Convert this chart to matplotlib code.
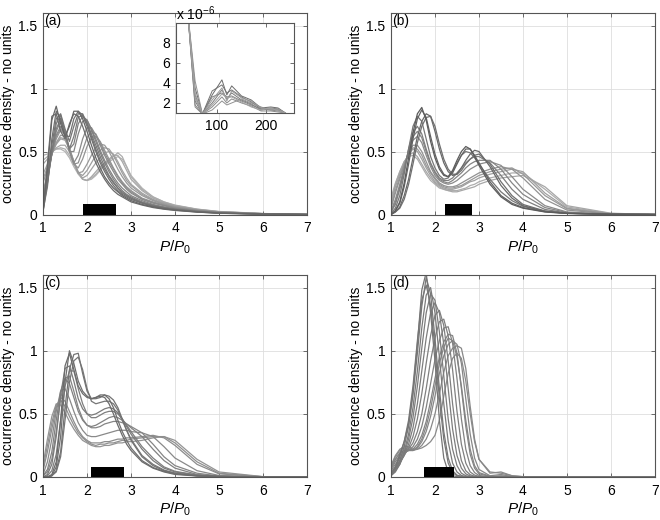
import numpy as np
import matplotlib
matplotlib.use('Agg')
import matplotlib.pyplot as plt

plt.rcParams['font.family'] = ['Liberation Sans', 'DejaVu Sans']
plt.rcParams['font.size'] = 10
plt.rcParams['mathtext.fontset'] = 'custom'
plt.rcParams['mathtext.rm'] = 'Liberation Sans'
plt.rcParams['mathtext.it'] = 'Liberation Sans:italic'

# ---------------- data ----------------
x_ratio = [1.0, 1.1, 1.2, 1.3, 1.4, 1.5, 1.6, 1.7, 1.8, 1.9,
           2.0, 2.1, 2.2, 2.3, 2.4, 2.5, 2.6, 2.7, 2.8, 2.9,
           3.0, 3.25, 3.5, 3.75, 4.0, 4.5, 5.0, 6.0, 7.0]

# panel (a), darkest curve first
curves_a = [
    [0.02, 0.35, 0.75, 0.86, 0.72, 0.62, 0.70, 0.82, 0.82, 0.76, 0.66, 0.55, 0.45, 0.37, 0.30, 0.25, 0.21, 0.18, 0.15, 0.13, 0.11,
     0.08, 0.06, 0.045, 0.035, 0.02, 0.01, 0.003, 0.0],
    [0.03, 0.40, 0.78, 0.80, 0.66, 0.60, 0.72, 0.80, 0.78, 0.70, 0.60, 0.50, 0.41, 0.34, 0.28, 0.23, 0.19, 0.16, 0.14, 0.12, 0.10,
     0.075, 0.055, 0.042, 0.032, 0.019, 0.01, 0.003, 0.0],
    [0.02, 0.25, 0.60, 0.82, 0.76, 0.62, 0.62, 0.76, 0.82, 0.79, 0.70, 0.60, 0.50, 0.41, 0.34, 0.28, 0.23, 0.19, 0.16, 0.14, 0.12,
     0.09, 0.065, 0.05, 0.038, 0.022, 0.012, 0.004, 0.0],
    [0.03, 0.22, 0.55, 0.76, 0.80, 0.68, 0.58, 0.70, 0.80, 0.80, 0.72, 0.62, 0.52, 0.43, 0.36, 0.30, 0.25, 0.21, 0.17, 0.15, 0.13,
     0.092, 0.068, 0.052, 0.04, 0.023, 0.012, 0.004, 0.0],
    [0.05, 0.25, 0.50, 0.72, 0.79, 0.65, 0.52, 0.62, 0.77, 0.79, 0.73, 0.64, 0.55, 0.46, 0.38, 0.31, 0.26, 0.21, 0.18, 0.15, 0.13,
     0.095, 0.07, 0.055, 0.04, 0.024, 0.013, 0.004, 0.0],
    [0.06, 0.26, 0.48, 0.68, 0.76, 0.66, 0.52, 0.56, 0.72, 0.78, 0.75, 0.67, 0.58, 0.49, 0.41, 0.34, 0.28, 0.23, 0.19, 0.16, 0.14,
     0.10, 0.075, 0.058, 0.043, 0.025, 0.014, 0.004, 0.0],
    [0.08, 0.28, 0.48, 0.66, 0.74, 0.66, 0.50, 0.50, 0.64, 0.74, 0.75, 0.68, 0.60, 0.51, 0.43, 0.36, 0.30, 0.25, 0.21, 0.18, 0.15,
     0.11, 0.08, 0.06, 0.045, 0.027, 0.015, 0.005, 0.0],
    [0.12, 0.30, 0.48, 0.63, 0.70, 0.64, 0.50, 0.41, 0.47, 0.60, 0.69, 0.69, 0.63, 0.55, 0.47, 0.40, 0.34, 0.28, 0.24, 0.20, 0.17,
     0.12, 0.09, 0.07, 0.05, 0.03, 0.017, 0.005, 0.0],
    [0.15, 0.31, 0.48, 0.62, 0.68, 0.64, 0.51, 0.40, 0.41, 0.51, 0.61, 0.66, 0.64, 0.57, 0.49, 0.42, 0.36, 0.30, 0.25, 0.21, 0.18,
     0.125, 0.095, 0.072, 0.052, 0.031, 0.017, 0.005, 0.0],
    [0.18, 0.33, 0.48, 0.60, 0.67, 0.63, 0.52, 0.40, 0.37, 0.44, 0.54, 0.61, 0.62, 0.58, 0.51, 0.44, 0.37, 0.31, 0.26, 0.22, 0.19,
     0.13, 0.10, 0.075, 0.055, 0.032, 0.018, 0.006, 0.0],
    [0.25, 0.36, 0.48, 0.57, 0.63, 0.62, 0.53, 0.42, 0.33, 0.34, 0.40, 0.47, 0.53, 0.56, 0.55, 0.50, 0.43, 0.36, 0.30, 0.25, 0.21,
     0.15, 0.11, 0.08, 0.06, 0.035, 0.02, 0.006, 0.0],
    [0.28, 0.38, 0.48, 0.56, 0.61, 0.60, 0.52, 0.42, 0.33, 0.31, 0.35, 0.41, 0.47, 0.51, 0.53, 0.52, 0.47, 0.40, 0.33, 0.27, 0.23,
     0.16, 0.115, 0.085, 0.062, 0.036, 0.02, 0.006, 0.0],
    [0.32, 0.40, 0.49, 0.56, 0.60, 0.59, 0.52, 0.42, 0.33, 0.29, 0.31, 0.36, 0.41, 0.45, 0.49, 0.50, 0.48, 0.42, 0.35, 0.29, 0.24,
     0.17, 0.12, 0.09, 0.065, 0.038, 0.021, 0.007, 0.0],
    [0.40, 0.44, 0.49, 0.53, 0.55, 0.55, 0.50, 0.42, 0.34, 0.28, 0.27, 0.30, 0.34, 0.38, 0.41, 0.44, 0.47, 0.47, 0.42, 0.35, 0.28,
     0.19, 0.13, 0.095, 0.07, 0.04, 0.022, 0.007, 0.0],
    [0.43, 0.46, 0.50, 0.52, 0.53, 0.52, 0.47, 0.40, 0.33, 0.28, 0.27, 0.29, 0.32, 0.36, 0.40, 0.43, 0.46, 0.49, 0.46, 0.38, 0.30,
     0.20, 0.14, 0.10, 0.072, 0.042, 0.023, 0.007, 0.0],
    [0.47, 0.48, 0.50, 0.52, 0.52, 0.50, 0.45, 0.38, 0.32, 0.28, 0.27, 0.28, 0.31, 0.35, 0.39, 0.42, 0.44, 0.46, 0.44, 0.38, 0.31,
     0.21, 0.14, 0.10, 0.075, 0.043, 0.024, 0.008, 0.0],
]

# panel (b)
curves_b = [
    [0.0, 0.03, 0.10, 0.25, 0.45, 0.65, 0.80, 0.85, 0.75, 0.58, 0.45, 0.36, 0.31, 0.30, 0.35, 0.43, 0.50, 0.54, 0.52, 0.46, 0.39,
     0.24, 0.14, 0.08, 0.05, 0.02, 0.008, 0.002, 0.0],
    [0.0, 0.03, 0.09, 0.22, 0.40, 0.60, 0.76, 0.83, 0.77, 0.62, 0.48, 0.38, 0.32, 0.30, 0.33, 0.40, 0.47, 0.52, 0.52, 0.47, 0.41,
     0.26, 0.15, 0.09, 0.055, 0.022, 0.009, 0.002, 0.0],
    [0.0, 0.02, 0.06, 0.15, 0.28, 0.45, 0.62, 0.74, 0.80, 0.78, 0.66, 0.52, 0.41, 0.34, 0.31, 0.32, 0.37, 0.43, 0.48, 0.51, 0.50,
     0.38, 0.23, 0.13, 0.07, 0.025, 0.01, 0.002, 0.0],
    [0.0, 0.02, 0.05, 0.12, 0.24, 0.40, 0.57, 0.70, 0.77, 0.78, 0.70, 0.56, 0.44, 0.36, 0.32, 0.32, 0.35, 0.40, 0.44, 0.47, 0.48,
     0.40, 0.26, 0.15, 0.08, 0.028, 0.01, 0.002, 0.0],
    [0.01, 0.05, 0.15, 0.32, 0.52, 0.70, 0.78, 0.74, 0.60, 0.46, 0.37, 0.31, 0.28, 0.29, 0.34, 0.41, 0.47, 0.50, 0.49, 0.45, 0.40,
     0.28, 0.18, 0.11, 0.065, 0.025, 0.01, 0.002, 0.0],
    [0.02, 0.08, 0.20, 0.35, 0.52, 0.65, 0.70, 0.64, 0.52, 0.41, 0.34, 0.29, 0.27, 0.27, 0.29, 0.33, 0.37, 0.41, 0.44, 0.46, 0.46,
     0.41, 0.31, 0.20, 0.12, 0.04, 0.012, 0.002, 0.0],
    [0.02, 0.10, 0.22, 0.36, 0.51, 0.62, 0.66, 0.61, 0.50, 0.40, 0.33, 0.28, 0.26, 0.25, 0.27, 0.30, 0.33, 0.37, 0.40, 0.42, 0.43,
     0.43, 0.36, 0.25, 0.16, 0.055, 0.016, 0.002, 0.0],
    [0.03, 0.12, 0.24, 0.37, 0.50, 0.59, 0.62, 0.57, 0.47, 0.38, 0.31, 0.27, 0.25, 0.24, 0.25, 0.27, 0.30, 0.33, 0.36, 0.38, 0.40,
     0.42, 0.39, 0.30, 0.20, 0.07, 0.02, 0.003, 0.0],
    [0.05, 0.17, 0.28, 0.39, 0.49, 0.55, 0.55, 0.50, 0.42, 0.34, 0.29, 0.25, 0.23, 0.22, 0.22, 0.23, 0.25, 0.27, 0.29, 0.31, 0.33,
     0.36, 0.38, 0.36, 0.29, 0.12, 0.035, 0.004, 0.0],
    [0.06, 0.19, 0.30, 0.40, 0.48, 0.53, 0.52, 0.47, 0.39, 0.33, 0.28, 0.24, 0.22, 0.21, 0.21, 0.22, 0.23, 0.25, 0.27, 0.29, 0.31,
     0.34, 0.36, 0.37, 0.32, 0.15, 0.045, 0.005, 0.0],
    [0.08, 0.22, 0.32, 0.41, 0.48, 0.52, 0.50, 0.44, 0.37, 0.31, 0.26, 0.23, 0.21, 0.20, 0.20, 0.21, 0.22, 0.24, 0.26, 0.27, 0.29,
     0.32, 0.34, 0.36, 0.34, 0.17, 0.05, 0.006, 0.0],
    [0.10, 0.24, 0.34, 0.42, 0.47, 0.49, 0.46, 0.40, 0.34, 0.29, 0.25, 0.22, 0.20, 0.19, 0.18, 0.18, 0.19, 0.20, 0.21, 0.22, 0.24,
     0.27, 0.29, 0.30, 0.31, 0.22, 0.07, 0.01, 0.0],
    [0.13, 0.25, 0.34, 0.42, 0.46, 0.47, 0.44, 0.38, 0.32, 0.27, 0.24, 0.21, 0.20, 0.19, 0.19, 0.19, 0.20, 0.21, 0.23, 0.24, 0.26,
     0.29, 0.31, 0.33, 0.33, 0.20, 0.06, 0.008, 0.0],
]

# panel (c)
curves_c = [
    [0.0, 0.0, 0.02, 0.12, 0.45, 0.88, 0.98, 0.85, 0.72, 0.66, 0.63, 0.62, 0.63, 0.64, 0.63, 0.58, 0.50, 0.41, 0.33, 0.26, 0.21,
     0.12, 0.07, 0.04, 0.02, 0.008, 0.003, 0.0, 0.0],
    [0.0, 0.0, 0.01, 0.08, 0.32, 0.75, 1.00, 0.90, 0.76, 0.68, 0.64, 0.62, 0.63, 0.65, 0.65, 0.62, 0.55, 0.45, 0.36, 0.29, 0.23,
     0.13, 0.075, 0.045, 0.025, 0.009, 0.003, 0.0, 0.0],
    [0.0, 0.0, 0.01, 0.05, 0.20, 0.55, 0.85, 0.97, 0.98, 0.82, 0.68, 0.62, 0.62, 0.63, 0.65, 0.64, 0.61, 0.55, 0.46, 0.37, 0.29,
     0.16, 0.09, 0.05, 0.03, 0.01, 0.004, 0.0, 0.0],
    [0.0, 0.0, 0.01, 0.04, 0.16, 0.45, 0.75, 0.92, 0.95, 0.85, 0.70, 0.60, 0.58, 0.59, 0.60, 0.60, 0.58, 0.53, 0.45, 0.37, 0.30,
     0.17, 0.10, 0.055, 0.03, 0.011, 0.004, 0.0, 0.0],
    [0.0, 0.02, 0.10, 0.32, 0.65, 0.86, 0.88, 0.76, 0.62, 0.54, 0.50, 0.49, 0.50, 0.52, 0.54, 0.55, 0.54, 0.51, 0.46, 0.40, 0.34,
     0.22, 0.13, 0.07, 0.04, 0.014, 0.005, 0.0, 0.0],
    [0.0, 0.01, 0.05, 0.18, 0.45, 0.72, 0.84, 0.84, 0.70, 0.58, 0.50, 0.47, 0.47, 0.49, 0.51, 0.52, 0.52, 0.50, 0.46, 0.41, 0.36,
     0.24, 0.15, 0.08, 0.045, 0.016, 0.005, 0.0, 0.0],
    [0.01, 0.06, 0.20, 0.45, 0.68, 0.78, 0.74, 0.63, 0.52, 0.45, 0.41, 0.40, 0.41, 0.43, 0.45, 0.47, 0.48, 0.47, 0.45, 0.42, 0.39,
     0.32, 0.22, 0.13, 0.07, 0.02, 0.006, 0.0, 0.0],
    [0.01, 0.04, 0.14, 0.36, 0.62, 0.78, 0.80, 0.68, 0.55, 0.46, 0.41, 0.39, 0.39, 0.40, 0.42, 0.43, 0.44, 0.44, 0.43, 0.42, 0.40,
     0.35, 0.26, 0.16, 0.09, 0.03, 0.008, 0.0, 0.0],
    [0.02, 0.12, 0.30, 0.52, 0.68, 0.70, 0.62, 0.52, 0.43, 0.37, 0.33, 0.32, 0.32, 0.33, 0.34, 0.35, 0.36, 0.37, 0.37, 0.37, 0.36,
     0.35, 0.32, 0.24, 0.15, 0.05, 0.012, 0.001, 0.0],
    [0.05, 0.20, 0.38, 0.55, 0.63, 0.60, 0.52, 0.44, 0.37, 0.32, 0.29, 0.27, 0.27, 0.27, 0.28, 0.28, 0.29, 0.30, 0.30, 0.31, 0.31,
     0.32, 0.33, 0.31, 0.25, 0.10, 0.025, 0.002, 0.0],
    [0.07, 0.25, 0.43, 0.57, 0.61, 0.56, 0.48, 0.41, 0.35, 0.31, 0.28, 0.26, 0.25, 0.26, 0.26, 0.27, 0.27, 0.28, 0.29, 0.29, 0.30,
     0.31, 0.32, 0.32, 0.27, 0.12, 0.03, 0.002, 0.0],
    [0.10, 0.30, 0.48, 0.58, 0.57, 0.51, 0.44, 0.38, 0.33, 0.29, 0.27, 0.25, 0.24, 0.24, 0.25, 0.25, 0.26, 0.27, 0.27, 0.28, 0.28,
     0.29, 0.31, 0.32, 0.29, 0.14, 0.04, 0.003, 0.0],
]

# panel (d)
curves_d = [
    [0.02, 0.08, 0.18, 0.28, 0.42, 0.68, 1.05, 1.48, 1.62, 1.30, 0.92, 0.45, 0.15, 0.04, 0.01, 0.003, 0.0, 0.0, 0.0, 0.0, 0.0,
     0.0, 0.0, 0.0, 0.0, 0.0, 0.0, 0.0, 0.0],
    [0.02, 0.07, 0.16, 0.28, 0.45, 0.72, 1.08, 1.40, 1.52, 1.36, 1.02, 0.62, 0.30, 0.11, 0.035, 0.01, 0.003, 0.0, 0.0, 0.0, 0.0,
     0.0, 0.0, 0.0, 0.0, 0.0, 0.0, 0.0, 0.0],
    [0.01, 0.05, 0.13, 0.24, 0.40, 0.65, 0.98, 1.35, 1.58, 1.45, 1.10, 0.70, 0.36, 0.15, 0.05, 0.015, 0.005, 0.0, 0.0, 0.0, 0.0,
     0.0, 0.0, 0.0, 0.0, 0.0, 0.0, 0.0, 0.0],
    [0.01, 0.04, 0.10, 0.20, 0.34, 0.55, 0.84, 1.18, 1.44, 1.50, 1.30, 0.95, 0.58, 0.28, 0.11, 0.04, 0.012, 0.004, 0.0, 0.0, 0.0,
     0.0, 0.0, 0.0, 0.0, 0.0, 0.0, 0.0, 0.0],
    [0.02, 0.05, 0.10, 0.18, 0.30, 0.47, 0.72, 1.02, 1.30, 1.45, 1.40, 1.15, 0.80, 0.46, 0.22, 0.09, 0.03, 0.01, 0.003, 0.0, 0.0,
     0.0, 0.0, 0.0, 0.0, 0.0, 0.0, 0.0, 0.0],
    [0.02, 0.06, 0.11, 0.17, 0.26, 0.39, 0.58, 0.84, 1.10, 1.30, 1.38, 1.30, 1.05, 0.70, 0.38, 0.17, 0.07, 0.025, 0.008, 0.003, 0.0,
     0.0, 0.0, 0.0, 0.0, 0.0, 0.0, 0.0, 0.0],
    [0.03, 0.07, 0.12, 0.17, 0.23, 0.32, 0.46, 0.66, 0.90, 1.12, 1.28, 1.32, 1.20, 0.92, 0.58, 0.30, 0.13, 0.05, 0.018, 0.006, 0.002,
     0.0, 0.0, 0.0, 0.0, 0.0, 0.0, 0.0, 0.0],
    [0.04, 0.08, 0.13, 0.18, 0.22, 0.27, 0.36, 0.50, 0.70, 0.92, 1.10, 1.23, 1.25, 1.12, 0.85, 0.52, 0.26, 0.11, 0.04, 0.015, 0.005,
     0.0, 0.0, 0.0, 0.0, 0.0, 0.0, 0.0, 0.0],
    [0.05, 0.10, 0.15, 0.19, 0.21, 0.24, 0.30, 0.40, 0.55, 0.74, 0.93, 1.08, 1.18, 1.19, 1.06, 0.78, 0.46, 0.22, 0.09, 0.035, 0.012,
     0.002, 0.0, 0.0, 0.0, 0.0, 0.0, 0.0, 0.0],
    [0.06, 0.12, 0.17, 0.20, 0.21, 0.22, 0.26, 0.33, 0.44, 0.60, 0.78, 0.95, 1.07, 1.13, 1.12, 0.98, 0.70, 0.40, 0.18, 0.07, 0.025,
     0.004, 0.001, 0.0, 0.0, 0.0, 0.0, 0.0, 0.0],
    [0.07, 0.14, 0.19, 0.21, 0.21, 0.21, 0.24, 0.30, 0.40, 0.54, 0.72, 0.90, 1.03, 1.10, 1.08, 0.95, 0.72, 0.45, 0.22, 0.09, 0.035,
     0.006, 0.01, 0.003, 0.0, 0.0, 0.0, 0.0, 0.0],
    [0.07, 0.14, 0.19, 0.21, 0.21, 0.21, 0.23, 0.28, 0.36, 0.48, 0.64, 0.82, 0.96, 1.05, 1.08, 1.05, 0.90, 0.62, 0.34, 0.15, 0.06,
     0.01, 0.02, 0.003, 0.0, 0.0, 0.0, 0.0, 0.0],
    [0.08, 0.16, 0.21, 0.23, 0.22, 0.21, 0.22, 0.25, 0.30, 0.38, 0.50, 0.66, 0.83, 0.96, 1.02, 1.04, 1.02, 0.86, 0.56, 0.30, 0.14,
     0.03, 0.04, 0.01, 0.003, 0.0, 0.0, 0.0, 0.0],
    [0.09, 0.17, 0.22, 0.24, 0.24, 0.22, 0.22, 0.23, 0.25, 0.28, 0.33, 0.45, 0.64, 0.82, 0.94, 0.98, 0.94, 0.76, 0.50, 0.28, 0.14,
     0.04, 0.03, 0.01, 0.002, 0.0, 0.0, 0.0, 0.0],
]

panel_labels = ['(a)', '(b)', '(c)', '(d)']
bar_lo = [1.90, 2.23, 2.08, 1.74]
bar_hi = [2.65, 2.85, 2.83, 2.44]
bar_height = 0.08

x_ticks = [1, 2, 3, 4, 5, 6, 7]
y_ticks = [0, 0.5, 1, 1.5]
y_tick_labels = ['0', '0.5', '1', '1.5']

# inset of panel (a): tail of the distribution, units of 1e-6
inset_x = [25, 40, 55, 70, 90, 110, 120, 130, 150, 170, 190, 210, 225, 240]
inset_curves = [
    [80, 11, 3.5, 0.9, 2.8, 4.3, 2.8, 3.7, 2.7, 2.3, 1.5, 1.6, 1.5, 1.0],
    [80, 11, 2.8, 0.9, 3.2, 3.8, 3.0, 3.3, 2.6, 2.1, 1.4, 1.5, 1.4, 1.0],
    [80, 11, 2.2, 0.9, 2.0, 3.3, 2.4, 3.0, 2.3, 1.9, 1.3, 1.4, 1.3, 1.0],
    [80, 11, 1.8, 0.9, 2.6, 3.0, 2.6, 2.7, 2.2, 1.8, 1.4, 1.3, 1.2, 1.0],
    [80, 11, 1.6, 0.9, 1.6, 2.6, 2.0, 2.4, 2.0, 1.7, 1.2, 1.2, 1.1, 1.0],
    [80, 11, 4.2, 0.9, 1.3, 2.2, 1.8, 2.0, 2.4, 2.0, 1.6, 1.3, 1.3, 1.0],
    [80, 11, 2.5, 0.9, 2.3, 3.5, 2.2, 3.2, 2.5, 2.2, 1.5, 1.4, 1.4, 1.0],
    [80, 11, 3.0, 0.9, 1.8, 2.9, 2.5, 2.6, 2.1, 1.6, 1.3, 1.5, 1.2, 1.0],
]
inset_xticks = [100, 200]
inset_yticks = [2, 4, 6, 8]

# ---------------- styling ----------------
panels = [curves_a, curves_b, curves_c, curves_d]
gray_ranges = [(0.40, 0.70), (0.36, 0.68), (0.42, 0.58), (0.46, 0.54)]
positions = [
    [0.0652, 0.5875, 0.4, 0.3875],
    [0.5924, 0.5875, 0.4, 0.3875],
    [0.0652, 0.0827, 0.4, 0.3885],
    [0.5924, 0.0827, 0.4, 0.3885],
]
edge = '#555555'

fig = plt.figure(figsize=(6.6, 5.2), dpi=100)


def style_axes(ax, pad=4):
    for s in ax.spines.values():
        s.set_color(edge)
        s.set_linewidth(0.8)
    ax.tick_params(which='both', direction='in', top=True, right=True,
                   length=3, width=0.6, color=edge, labelcolor='black', pad=pad)


for i, curves in enumerate(panels):
    ax = fig.add_axes(positions[i])
    g0, g1 = gray_ranges[i]
    n = len(curves)
    grays = np.linspace(g0, g1, n)
    for k in range(n - 1, -1, -1):
        ax.plot(x_ratio, curves[k], color=str(grays[k]), lw=0.9, zorder=2)
    ax.bar(bar_lo[i], bar_height, width=bar_hi[i] - bar_lo[i], align='edge',
           color='black', zorder=3)
    ax.set_xlim(1, 7)
    ax.set_ylim(0, 1.6)
    ax.set_xticks(x_ticks)
    ax.set_yticks(y_ticks)
    ax.set_yticklabels(y_tick_labels)
    ax.grid(True, color='#dedede', lw=0.6, ls='-')
    ax.set_axisbelow(True)
    style_axes(ax)
    ax.tick_params(axis='x', pad=5)
    ax.set_xlabel(r'$P/P_0$', labelpad=2, fontsize=11)
    ax.set_ylabel('occurrence density - no units', labelpad=2)
    ax.text(0.006, 0.995, panel_labels[i], transform=ax.transAxes,
            ha='left', va='top')

# inset
axi = fig.add_axes([0.266, 0.7827, 0.179, 0.1737])
axi.set_facecolor('white')
for k, ys in enumerate(inset_curves):
    axi.plot(inset_x, ys, color=str(0.42 + 0.03 * k), lw=0.7)
axi.set_xlim(15, 257)
axi.set_ylim(1, 10)
axi.set_xticks(inset_xticks)
axi.set_yticks(inset_yticks)
style_axes(axi)
axi.text(0.0, 1.0, r'x 10$^{-6}$', transform=axi.transAxes,
         ha='left', va='bottom')

fig.savefig('out.png', dpi=100)
